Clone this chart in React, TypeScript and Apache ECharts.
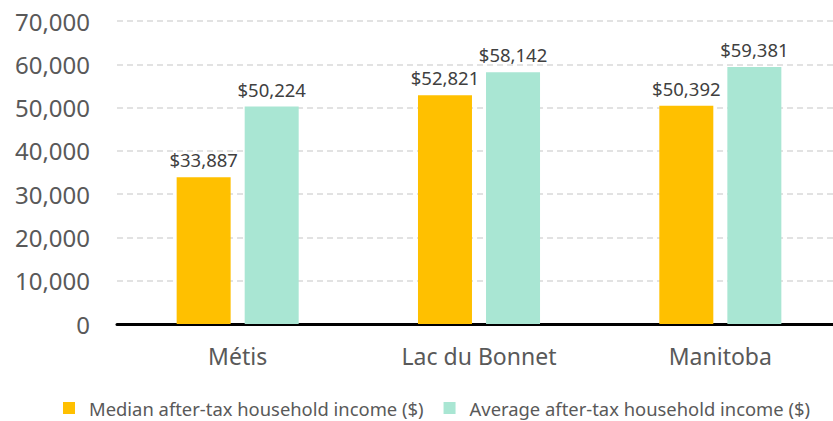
import React, { useEffect, useRef } from "react";
import * as echarts from "echarts";

const categories = ["Métis", "Lac du Bonnet", "Manitoba"];
const medianIncome = [33887, 52821, 50392];
const averageIncome = [50224, 58142, 59381];
const seriesNames = [
  "Median after-tax household income ($)",
  "Average after-tax household income ($)",
];

const FONT = "Noto Sans";

export default function App() {
  const ref = useRef<HTMLDivElement>(null);
  useEffect(() => {
    if (!ref.current) return;
    const chart = echarts.init(ref.current, undefined, { renderer: "svg" });
    const fmt = (p: any) => "$" + Number(p.value).toLocaleString("en-US");
    chart.setOption({
      animation: false,
      textStyle: { fontFamily: FONT },
      grid: { left: 117, right: 9, top: 21, bottom: 97, containLabel: false },
      legend: {
        left: 58,
        top: 393,
        icon: "rect",
        itemWidth: 12,
        itemHeight: 12,
        itemGap: 20,
        textStyle: {
          fontFamily: FONT,
          fontSize: 18.4,
          lineHeight: 20,
          color: "#595959",
          padding: [0, 0, 0, 9],
        },
        data: seriesNames,
      },
      xAxis: {
        type: "category",
        data: categories,
        axisTick: { show: false },
        axisLine: { lineStyle: { color: "#000", width: 3 } },
        axisLabel: { fontFamily: FONT, fontSize: 23, color: "#595959", margin: 20 },
      },
      yAxis: {
        type: "value",
        min: 0,
        max: 70000,
        interval: 10000,
        axisLine: { show: false },
        axisTick: { show: false },
        axisLabel: {
          fontFamily: FONT,
          fontSize: 24,
          color: "#595959",
          margin: 27,
          formatter: (v: number) => v.toLocaleString("en-US"),
        },
        splitLine: { lineStyle: { color: "#d9d9d9", type: [6, 4], width: 1.5 } },
      },
      series: [
        {
          name: seriesNames[0],
          type: "bar",
          data: medianIncome,
          barWidth: 54,
          barGap: "26%",
          itemStyle: { color: "#FFC000" },
          label: {
            show: true,
            position: "top",
            distance: 8,
            formatter: fmt,
            fontFamily: FONT,
            fontSize: 18.5,
            color: "#404040",
          },
        },
        {
          name: seriesNames[1],
          type: "bar",
          data: averageIncome,
          barWidth: 54,
          barGap: "26%",
          itemStyle: { color: "#A9E6D3" },
          label: {
            show: true,
            position: "top",
            distance: 8,
            formatter: fmt,
            fontFamily: FONT,
            fontSize: 18.5,
            color: "#404040",
          },
        },
      ],
    });
    return () => chart.dispose();
  }, []);
  return (
    <div
      style={{
        position: "absolute",
        left: 0,
        top: 0,
        width: 833,
        height: 421,
        overflow: "hidden",
      }}
    >
      <div ref={ref} style={{ width: 850, height: 421 }} />
    </div>
  );
}
